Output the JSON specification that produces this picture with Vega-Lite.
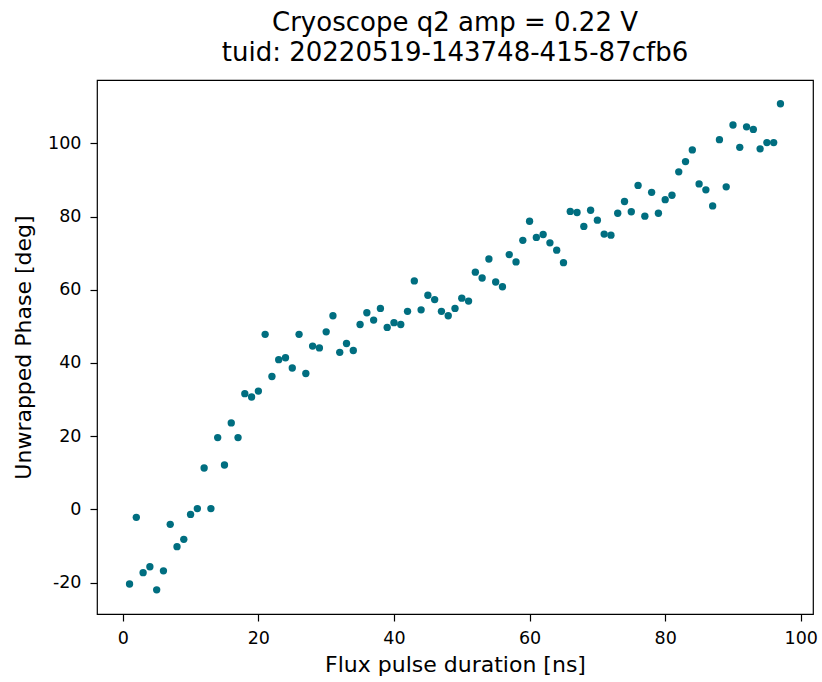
{
  "$schema": "https://vega.github.io/schema/vega-lite/v6.json",
  "autosize": "none",
  "width": 716,
  "height": 534,
  "padding": {"left": 97, "top": 80, "right": 9, "bottom": 68},
  "background": "white",
  "config": {
    "font": "DejaVu Sans",
    "view": {"stroke": "black", "strokeWidth": 1.2},
    "axis": {"grid": false, "domain": false, "tickColor": "black", "tickSize": 7, "tickWidth": 1.2, "labelColor": "black", "titleColor": "black", "labelFontSize": 17.5, "titleFontSize": 22, "titleFontWeight": "normal", "labelPadding": 8}
  },
  "title": {
    "text": ["Cryoscope q2 amp = 0.22 V", "tuid: 20220519-143748-415-87cfb6"],
    "fontSize": 26,
    "fontWeight": "normal",
    "color": "black",
    "lineHeight": 30,
    "offset": 14,
    "anchor": "middle"
  },
  "data": {"values": [
    {"t": 1, "phase": -20.4}, {"t": 2, "phase": -2.2}, {"t": 3, "phase": -17.3}, {"t": 4, "phase": -15.7},
    {"t": 5, "phase": -22.0}, {"t": 6, "phase": -16.8}, {"t": 7, "phase": -4.1}, {"t": 8, "phase": -10.2},
    {"t": 9, "phase": -8.2}, {"t": 10, "phase": -1.4}, {"t": 11, "phase": 0.2}, {"t": 12, "phase": 11.3},
    {"t": 13, "phase": 0.2}, {"t": 14, "phase": 19.6}, {"t": 15, "phase": 12.1}, {"t": 16, "phase": 23.6},
    {"t": 17, "phase": 19.6}, {"t": 18, "phase": 31.6}, {"t": 19, "phase": 30.7}, {"t": 20, "phase": 32.3},
    {"t": 21, "phase": 47.8}, {"t": 22, "phase": 36.3}, {"t": 23, "phase": 40.9}, {"t": 24, "phase": 41.4},
    {"t": 25, "phase": 38.6}, {"t": 26, "phase": 47.8}, {"t": 27, "phase": 37.1}, {"t": 28, "phase": 44.6},
    {"t": 29, "phase": 44.1}, {"t": 30, "phase": 48.5}, {"t": 31, "phase": 52.9}, {"t": 32, "phase": 42.9},
    {"t": 33, "phase": 45.3}, {"t": 34, "phase": 43.4}, {"t": 35, "phase": 50.5}, {"t": 36, "phase": 53.7},
    {"t": 37, "phase": 51.7}, {"t": 38, "phase": 54.9}, {"t": 39, "phase": 49.7}, {"t": 40, "phase": 51.0},
    {"t": 41, "phase": 50.5}, {"t": 42, "phase": 54.1}, {"t": 43, "phase": 62.4}, {"t": 44, "phase": 54.5},
    {"t": 45, "phase": 58.5}, {"t": 46, "phase": 57.3}, {"t": 47, "phase": 54.1}, {"t": 48, "phase": 52.9},
    {"t": 49, "phase": 54.9}, {"t": 50, "phase": 57.7}, {"t": 51, "phase": 56.9}, {"t": 52, "phase": 64.8},
    {"t": 53, "phase": 63.2}, {"t": 54, "phase": 68.4}, {"t": 55, "phase": 62.1}, {"t": 56, "phase": 60.8},
    {"t": 57, "phase": 69.6}, {"t": 58, "phase": 67.6}, {"t": 59, "phase": 73.5}, {"t": 60, "phase": 78.7},
    {"t": 61, "phase": 74.3}, {"t": 62, "phase": 75.1}, {"t": 63, "phase": 72.8}, {"t": 64, "phase": 70.8},
    {"t": 65, "phase": 67.4}, {"t": 66, "phase": 81.4}, {"t": 67, "phase": 81.1}, {"t": 68, "phase": 77.3},
    {"t": 69, "phase": 81.7}, {"t": 70, "phase": 79.0}, {"t": 71, "phase": 75.2}, {"t": 72, "phase": 74.9},
    {"t": 73, "phase": 80.9}, {"t": 74, "phase": 84.1}, {"t": 75, "phase": 81.3}, {"t": 76, "phase": 88.5},
    {"t": 77, "phase": 80.1}, {"t": 78, "phase": 86.6}, {"t": 79, "phase": 80.9}, {"t": 80, "phase": 84.6},
    {"t": 81, "phase": 85.8}, {"t": 82, "phase": 92.2}, {"t": 83, "phase": 95.0}, {"t": 84, "phase": 98.2},
    {"t": 85, "phase": 88.9}, {"t": 86, "phase": 87.3}, {"t": 87, "phase": 82.9}, {"t": 88, "phase": 101.0},
    {"t": 89, "phase": 88.1}, {"t": 90, "phase": 105.0}, {"t": 91, "phase": 98.9}, {"t": 92, "phase": 104.5},
    {"t": 93, "phase": 103.8}, {"t": 94, "phase": 98.5}, {"t": 95, "phase": 100.2}, {"t": 96, "phase": 100.2},
    {"t": 97, "phase": 110.8}
  ]},
  "mark": {"type": "point", "filled": true, "size": 54, "opacity": 1, "color": "#006e80"},
  "encoding": {
    "x": {
      "field": "t", "type": "quantitative",
      "scale": {"domain": [-3.8, 101.8], "nice": false, "zero": false},
      "axis": {"values": [0, 20, 40, 60, 80, 100], "title": "Flux pulse duration [ns]", "titlePadding": 8}
    },
    "y": {
      "field": "phase", "type": "quantitative",
      "scale": {"domain": [-28.6, 117.3], "nice": false, "zero": false},
      "axis": {"values": [-20, 0, 20, 40, 60, 80, 100], "title": "Unwrapped Phase [deg]", "titlePadding": 12, "labelPadding": 9,
        "labelExpr": "datum.value < 0 ? '-' + abs(datum.value) : '' + datum.value"}
    }
  }
}
